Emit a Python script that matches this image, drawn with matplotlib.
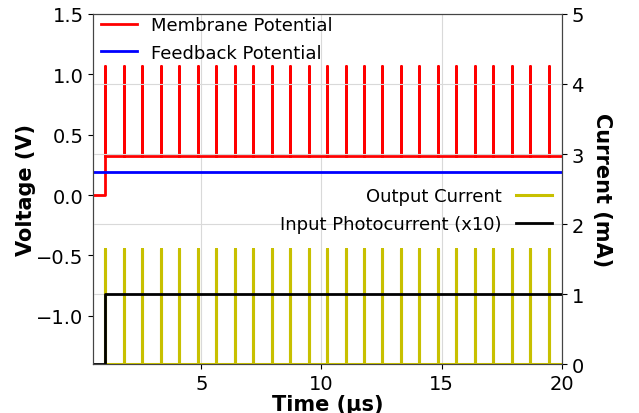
import matplotlib
matplotlib.use("Agg")
import matplotlib.pyplot as plt

plt.rcParams['path.simplify'] = False

# spike times (µs)
spike_times = [1.00, 1.77, 2.54, 3.31, 4.08, 4.85, 5.61, 6.38, 7.15, 7.92,
               8.69, 9.46, 10.23, 11.00, 11.77, 12.54, 13.30, 14.07, 14.84,
               15.61, 16.38, 17.15, 17.92, 18.69, 19.46]
t_start = 0.5
t_on = 1.0
t_end = 20.0

# membrane potential (V)
v_rest = 0.0
v_base = 0.32
v_peak = 1.07
# feedback potential (V)
v_feedback = 0.19
# currents (mA)
i_out_peak = 1.65
i_photo_off = 0.0
i_photo_on = 1.0


def spike_train(times, base, peak, t0, t1, pre=None):
    xs, ys = [], []
    if pre is not None:
        xs += [t0, times[0]]
        ys += [pre, pre]
    else:
        xs.append(times[0])
        ys.append(base)
    for t in times:
        xs += [t, t, t]
        ys += [base, peak, base]
    xs.append(t1)
    ys.append(base)
    return xs, ys


fig, ax = plt.subplots(figsize=(6.39, 4.14), dpi=100)
ax2 = ax.twinx()

# grid: vertical from the time axis, horizontal from the current axis
ax.grid(True, axis='x', color='#d9d9d9', lw=0.8)
ax2.grid(True, axis='y', color='#d9d9d9', lw=0.8)

mx, my = spike_train(spike_times, v_base, v_peak, t_start, t_end, pre=v_rest)
ax.plot(mx, my, color='red', lw=2, label='Membrane Potential')
ax.plot([t_start, t_end], [v_feedback, v_feedback], color='blue', lw=2, label='Feedback Potential')

ox, oy = spike_train(spike_times, 0.0, i_out_peak, t_start, t_end)
ax2.plot(ox, oy, color='#c8c000', lw=2.2, label='Output Current')
ax2.plot([t_start, t_on, t_on, t_end], [i_photo_off, i_photo_off, i_photo_on, i_photo_on],
         color='black', lw=2, label='Input Photocurrent (x10)')

ax.set_xlim(t_start, t_end)
ax.set_ylim(-1.4, 1.5)
ax2.set_ylim(0, 5)
ax.set_xticks([5, 10, 15, 20])
ax.set_yticks([-1.0, -0.5, 0.0, 0.5, 1.0, 1.5])
ax2.set_yticks([0, 1, 2, 3, 4, 5])

ax.tick_params(labelsize=14)
ax2.tick_params(labelsize=14)
ax.set_xlabel('Time (µs)', fontsize=15, fontweight='bold', labelpad=1)
ax.set_ylabel('Voltage (V)', fontsize=15, fontweight='bold', labelpad=0)
ax2.set_ylabel('Current (mA)', fontsize=15, fontweight='bold', rotation=270, labelpad=20)

ax.legend(loc='upper left', frameon=False, fontsize=13, borderaxespad=0.0,
          handlelength=2.0, labelspacing=0.55, bbox_to_anchor=(0.0, 1.015))
ax2.legend(loc='upper right', frameon=False, fontsize=13, markerfirst=False,
           handlelength=2.0, labelspacing=0.55, borderaxespad=0.0,
           bbox_to_anchor=(0.995, 0.525))

for a in (ax, ax2):
    for s in a.spines.values():
        s.set_color('#444444')

fig.subplots_adjust(left=0.146, right=0.879, top=0.964, bottom=0.118)
fig.savefig('out.png', dpi=100)
